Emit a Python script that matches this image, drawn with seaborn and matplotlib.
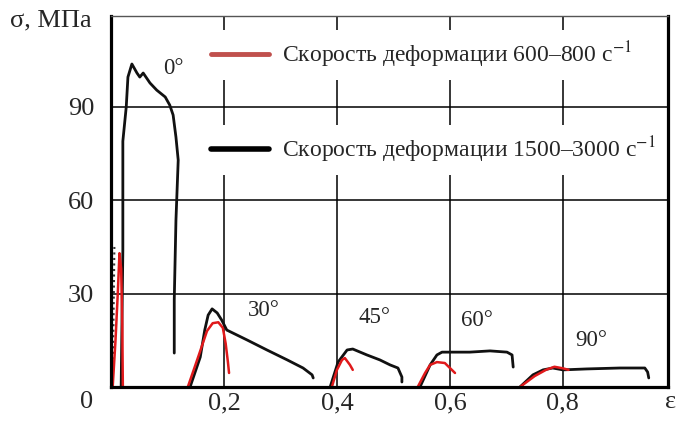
import pandas as pd
import matplotlib.pyplot as plt
import seaborn as sns
from matplotlib.lines import Line2D

sns.set_style("white")
plt.rcParams["font.family"] = ["Liberation Serif", "DejaVu Serif"]
plt.rcParams["mathtext.fontset"] = "stix"

# Кривые деформирования: ε (доли) и σ (МПа)
angles = ["0°", "30°", "45°", "60°", "90°"]
rates = ["600–800", "1500–3000"]

# скорость 1500–3000 c^-1 (чёрные)
eps_fast = {
    "0°": [0.018, 0.021, 0.021, 0.027, 0.030, 0.037, 0.046, 0.051, 0.057, 0.069,
           0.081, 0.096, 0.104, 0.110, 0.115, 0.119, 0.115, 0.112, 0.112],
    "30°": [0.140, 0.158, 0.166, 0.172, 0.179, 0.188, 0.196, 0.205, 0.241, 0.276,
            0.312, 0.340, 0.356, 0.358],
    "45°": [0.388, 0.402, 0.418, 0.428, 0.453, 0.476, 0.494, 0.508, 0.515, 0.515],
    "60°": [0.547, 0.565, 0.577, 0.586, 0.600, 0.635, 0.671, 0.701, 0.710, 0.712],
    "90°": [0.724, 0.747, 0.765, 0.782, 0.800, 0.842, 0.901, 0.945, 0.950, 0.952],
}
sig_fast = {
    "0°": [0, 44, 79, 90, 99.6, 103.8, 100.9, 99.6, 100.9, 97.7,
           95.4, 93.2, 90.6, 87.4, 80.3, 72.9, 53.6, 28, 10.9],
    "30°": [0, 9.6, 18.3, 23.1, 25.1, 23.8, 21.5, 18.3, 15.1, 11.9,
            8.7, 6.1, 3.9, 2.9],
    "45°": [0, 8.0, 11.9, 12.2, 10.3, 8.7, 7.1, 6.1, 3.2, 1.6],
    "60°": [0, 7.1, 10.3, 11.2, 11.2, 11.2, 11.6, 11.2, 10.3, 6.4],
    "90°": [0, 3.9, 5.5, 6.1, 5.5, 5.8, 6.1, 6.1, 4.8, 2.9],
}

# скорость 600–800 c^-1 (красные)
eps_slow = {
    "0°": [0.003, 0.008, 0.012, 0.015, 0.018, 0.020, 0.021],
    "30°": [0.136, 0.155, 0.170, 0.180, 0.190, 0.198, 0.203, 0.207, 0.209],
    "45°": [0.391, 0.400, 0.409, 0.414, 0.423, 0.428],
    "60°": [0.543, 0.556, 0.565, 0.577, 0.591, 0.600, 0.609],
    "90°": [0.724, 0.750, 0.770, 0.785, 0.800, 0.810],
}
sig_slow = {
    "0°": [0, 15, 30, 43, 38, 20, 0],
    "30°": [0, 10, 18, 20.5, 20.8, 19, 14, 8, 4.5],
    "45°": [0, 5.5, 8.7, 9.3, 7.1, 5.5],
    "60°": [0, 4.5, 7.1, 8.0, 7.7, 6.1, 4.5],
    "90°": [0, 3.5, 5.5, 6.5, 6.0, 5.5],
}

# точечный след у начала координат
eps_trace = [0.003, 0.004, 0.005, 0.006]
sig_trace = [0, 15, 30, 45]

xticks = [0.2, 0.4, 0.6, 0.8]
xtick_labels = ["0,2", "0,4", "0,6", "0,8"]
yticks = [30, 60, 90]
ytick_labels = ["30", "60", "90"]

rows = []
for a in angles:
    for e, s in zip(eps_slow[a], sig_slow[a]):
        rows.append({"eps": e, "sigma": s, "angle": a, "rate": rates[0]})
    for e, s in zip(eps_fast[a], sig_fast[a]):
        rows.append({"eps": e, "sigma": s, "angle": a, "rate": rates[1]})
data = pd.DataFrame(rows)
trace = pd.DataFrame({"eps": eps_trace, "sigma": sig_trace})

fig = plt.figure(figsize=(6.78, 4.21), dpi=100)
ax = fig.add_axes([0.1637, 0.0808, 0.8215, 0.881])

ax.set_xlim(0, 0.986)
ax.set_ylim(0, 119.2)
ax.set_xticks(xticks, xtick_labels)
ax.set_yticks(yticks, ytick_labels)
ax.grid(True, color="black", linewidth=1.1)
ax.set_axisbelow(True)
ax.tick_params(axis="x", length=0, pad=4, labelsize=19)
ax.tick_params(axis="y", length=0, pad=12, labelsize=19)

sns.lineplot(data=trace, x="eps", y="sigma", color="#333333", linestyle=":",
             linewidth=1.5, sort=False, legend=False, ax=ax)
sns.lineplot(data=data[data["rate"] == rates[1]], x="eps", y="sigma", units="angle",
             estimator=None, sort=False, color="#111111", linewidth=2.0,
             legend=False, ax=ax)
sns.lineplot(data=data[data["rate"] == rates[0]], x="eps", y="sigma", units="angle",
             estimator=None, sort=False, color="#e0191b", linewidth=1.8,
             legend=False, ax=ax)
ax.set_xlabel("")
ax.set_ylabel("")

for side in ["left", "bottom", "right"]:
    ax.spines[side].set_linewidth(2.3)
    ax.spines[side].set_color("black")
ax.spines["top"].set_linewidth(1.0)
ax.spines["top"].set_color("#555555")

# подписи углов
label_pos = {"0°": (0.110, 102.5), "30°": (0.271, 24.7), "45°": (0.467, 22.2),
             "60°": (0.648, 21.5), "90°": (0.851, 14.8)}
for a in angles:
    ax.text(*label_pos[a], a, fontsize=16.5, ha="center", va="center")

# легенда: две строки с белым фоном
leg_kw = dict(frameon=True, facecolor="white", edgecolor="none", framealpha=1,
              fontsize=17, handlelength=2.45, handletextpad=0.55, borderpad=0.4,
              borderaxespad=0, loc="center left")
leg1 = ax.legend(handles=[Line2D([], [], color="#c0504d", linewidth=3.5)],
                 labels=["Скорость деформации 600–800 с$^{-1}$"],
                 bbox_to_anchor=(202 / 678, 1 - 55 / 421),
                 bbox_transform=fig.transFigure, **leg_kw)
ax.add_artist(leg1)
ax.legend(handles=[Line2D([], [], color="black", linewidth=4)],
          labels=["Скорость деформации 1500–3000 с$^{-1}$"],
          bbox_to_anchor=(202 / 678, 1 - 150 / 421),
          bbox_transform=fig.transFigure, **leg_kw)

fig.text(10 / 678, 1 - 20 / 421, "σ, МПа", fontsize=19, ha="left", va="center")
fig.text(87 / 678, 1 - 402 / 421, "0", fontsize=19, ha="center", va="center")
fig.text(671 / 678, 1 - 402 / 421, "ε", fontsize=19, ha="center", va="center")

fig.savefig("out.png", dpi=100)
plt.close(fig)
